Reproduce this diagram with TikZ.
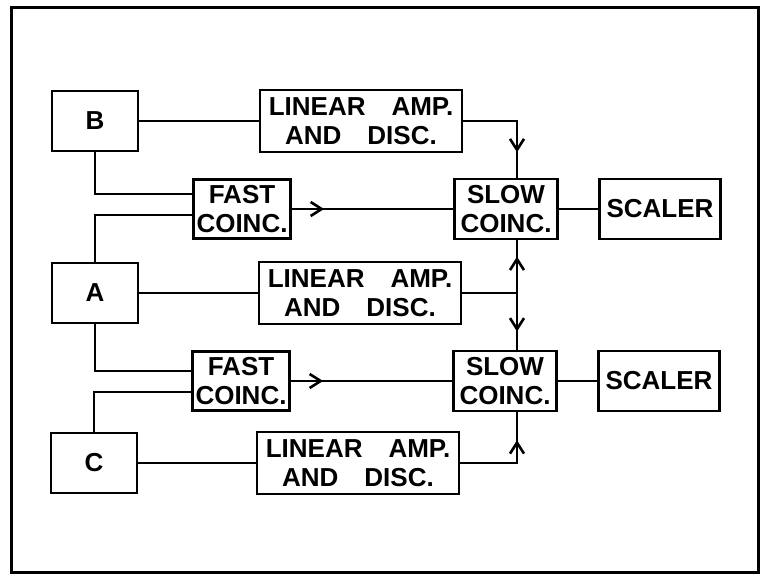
\documentclass[tikz,border=0pt]{standalone}
\usepackage{fontspec}
\setmainfont{Liberation Sans}
\usetikzlibrary{arrows.meta,decorations.markings}

\begin{document}
\begin{tikzpicture}[x=1pt,y=-1pt,
  box/.style={draw,line width=2.6pt,align=center,inner sep=0pt,font=\fontsize{26}{29}\selectfont\bfseries},
  det/.style={box,minimum width=86pt,minimum height=60pt},
  amp/.style={box,minimum width=202pt,minimum height=62pt},
  fast/.style={box,minimum width=97pt,minimum height=59pt},
  slow/.style={box,minimum width=103pt,minimum height=60pt},
  scal/.style={box,minimum width=121pt,minimum height=60pt},
  wire/.style={line width=2.6pt},
  flow/.style={wire,postaction={decorate},decoration={markings,
    mark=at position #1 with {\arrow{Straight Barb[length=11pt,width=14pt]}}}},
]
\useasboundingbox (0,0) rectangle (761,580);
\draw[line width=3pt] (11,8) rectangle (758,572);
% detectors and amplifiers
\node[det] (detB) at (95,121) {B};
\node[det] (detA) at (95,293) {A};
\node[det] (detC) at (94,463) {C};
\node[amp] (ampB) at (361,121) {LINEAR\hspace{1em}AMP.\\AND\hspace{1em}DISC.};
\node[amp] (ampA) at (360,293) {LINEAR\hspace{1em}AMP.\\AND\hspace{1em}DISC.};
\node[amp] (ampC) at (358,463) {LINEAR\hspace{1em}AMP.\\AND\hspace{1em}DISC.};
% coincidence units and scalers
\node[fast] (fastBA) at (242,209) {FAST\\COINC.};
\node[fast] (fastAC) at (241,381) {FAST\\COINC.};
\node[slow] (slowBA) at (506,209) {SLOW\\COINC.};
\node[slow] (slowAC) at (505,381) {SLOW\\COINC.};
\node[scal] (scalBA) at (660,209) {SCALER};
\node[scal] (scalAC) at (659,381) {SCALER};
\coordinate (jA) at ([xshift=11pt]slowBA.north |- ampA.east);

\draw[wire] (detB) -- (ampB);
\draw[wire] (detA) -- (ampA);
\draw[wire] (detC) -- (ampC);
\draw[wire] (detB.south) |- ([yshift=15pt]fastBA.west);
\draw[wire] (detA.north) |- ([yshift=-6pt]fastBA.west);
\draw[wire] (detA.south) |- ([yshift=10pt]fastAC.west);
\draw[wire] (detC.north) |- ([yshift=-11pt]fastAC.west);
\draw[flow=0.2] (fastBA) -- (slowBA);
\draw[flow=0.2] (fastAC) -- (slowAC);
\draw[wire] (slowBA) -- (scalBA);
\draw[wire] (slowAC) -- (scalAC);
\draw[flow=0.77] (ampB.east) -| ([xshift=11pt]slowBA.north);
\draw[wire] (ampA.east) -- (jA);
\draw[flow=0.69] (jA) -- ([xshift=11pt]slowBA.south);
\draw[flow=0.68] (jA) -- ([xshift=12pt]slowAC.north);
\draw[flow=0.74] (ampC.east) -| ([xshift=12pt]slowAC.south);
\end{tikzpicture}
\end{document}
